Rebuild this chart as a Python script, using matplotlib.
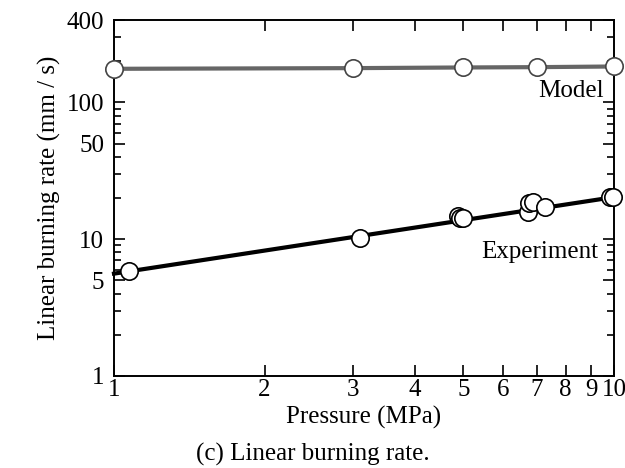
import matplotlib
matplotlib.use("Agg")
import matplotlib.pyplot as plt
from matplotlib.ticker import FixedLocator, NullFormatter

plt.rcParams["font.family"] = ["Liberation Serif", "DejaVu Serif"]

# ── Data ──────────────────────────────────────────────────────────────────────
model_p = [1.0, 3.0, 5.0, 7.0, 10.0]
model_r = [176, 178, 180, 181, 183]

exp_p = [1.07, 3.1, 4.88, 4.92, 5.0, 6.73, 6.75, 6.9, 7.28, 9.8, 9.97]
exp_r = [5.85, 10.2, 14.8, 14.4, 14.2, 15.7, 18.4, 18.6, 17.1, 20.4, 20.4]

fit_p = [1.0, 10.0]
fit_r = [5.6, 20.3]

x_ticks = [1, 2, 3, 4, 5, 6, 7, 8, 9, 10]
x_labels = ["1", "2", "3", "4", "5", "6", "7", "8", "9", "10"]
y_ticks = [1, 5, 10, 50, 100, 400]
y_minor = [2, 3, 4, 6, 7, 8, 9, 20, 30, 40, 60, 70, 80, 90, 200, 300]

FS = 18

# ── Plot ──────────────────────────────────────────────────────────────────────
fig = plt.figure(figsize=(6.25, 4.68), dpi=100)
ax = fig.add_axes([0.1824, 0.1966, 0.8, 0.7606])

ax.set_xscale("log")
ax.set_yscale("log")

ax.plot(model_p, model_r, color="#666666", lw=3, zorder=2, clip_on=False)
ax.plot(model_p, model_r, ls="none", marker="o", ms=12.5, mfc="white",
        mec="#444444", mew=1.2, zorder=3, clip_on=False)

ax.plot(fit_p, fit_r, color="black", lw=3, zorder=2, clip_on=False)
ax.plot(exp_p, exp_r, ls="none", marker="o", ms=12.5, mfc="white",
        mec="black", mew=1.2, zorder=3, clip_on=False)

ax.set_xlim(1, 10)
ax.set_ylim(1, 400)

ax.xaxis.set_major_locator(FixedLocator(x_ticks))
ax.set_xticklabels(x_labels)
ax.xaxis.set_minor_locator(FixedLocator([]))
ax.yaxis.set_major_locator(FixedLocator(y_ticks))
ax.set_yticklabels([str(v) for v in y_ticks])
ax.yaxis.set_minor_locator(FixedLocator(y_minor))
ax.yaxis.set_minor_formatter(NullFormatter())

ax.tick_params(which="both", direction="in", top=True, right=True,
               labelsize=FS, width=1.2)
ax.tick_params(which="major", length=8)
ax.tick_params(which="minor", length=5)
ax.tick_params(axis="x", pad=2)
ax.tick_params(axis="y", pad=7)
for s in ax.spines.values():
    s.set_linewidth(1.4)

ax.text(9.55, 100, "Model", fontsize=FS, ha="right", va="bottom")
ax.text(9.3, 6.7, "Experiment", fontsize=FS, ha="right", va="bottom")

ax.set_xlabel("Pressure (MPa)", fontsize=FS, labelpad=4)
ax.set_ylabel("Linear burning rate (mm / s)", fontsize=FS, labelpad=4)
fig.text(0.5, 0.004, "(c) Linear burning rate.", fontsize=FS, ha="center", va="bottom")

fig.savefig("out.png", dpi=100)
